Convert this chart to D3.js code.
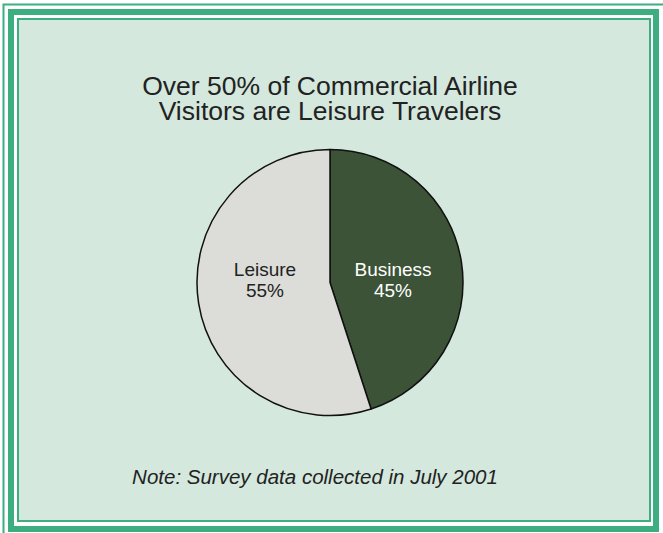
<!DOCTYPE html>
<html>
<head>
<meta charset="utf-8">
<script src="https://cdn.jsdelivr.net/npm/d3@7"></script>
<style>
  html, body { margin: 0; padding: 0; background: #ffffff; }
  svg { display: block; }
</style>
</head>
<body>
<script>
// Share of commercial airline visitors by trip purpose
const categories = ["Business", "Leisure"];
const shares = [45, 55];
const sliceLabels = ["45%", "55%"];
const titleLines = ["Over 50% of Commercial Airline", "Visitors are Leisure Travelers"];
const noteText = "Note: Survey data collected in July 2001";

const W = 663, H = 533;
const green = "#3dae80";
const panelFill = "#d4e8dd";
const font = "'Liberation Sans', Arial, sans-serif";
const sliceColors = d3.scaleOrdinal().domain(categories).range(["#3c5337", "#dcdcd8"]);
const labelColors = d3.scaleOrdinal().domain(categories).range(["#ffffff", "#222222"]);

const svg = d3.select("body").append("svg").attr("width", W).attr("height", H);

// framed panel: thin outer rule, heavy band, thin inner rule
svg.append("rect").attr("x", 3.5).attr("y", 4.5).attr("width", W + 10).attr("height", H + 10)
  .attr("fill", "none").attr("stroke", green).attr("stroke-width", 2);
svg.append("rect").attr("x", 11).attr("y", 12).attr("width", 645).attr("height", 517)
  .attr("fill", "#ffffff").attr("stroke", green).attr("stroke-width", 6);
svg.append("rect").attr("x", 18).attr("y", 19).attr("width", 632).attr("height", 502)
  .attr("fill", panelFill).attr("stroke", green).attr("stroke-width", 2);

// title, one text element per line
svg.selectAll("text.title").data(titleLines).join("text")
  .attr("class", "title")
  .attr("x", 330)
  .attr("y", (d, i) => 95 + i * 25)
  .attr("text-anchor", "middle")
  .attr("font-family", font)
  .attr("font-size", 26.5)
  .attr("fill", "#222222")
  .text(d => d);

// pie
const cx = 330, cy = 282.5, r = 133;
const pie = d3.pie().sort(null).value(d => d.value);
const arcs = pie(categories.map((c, i) => ({ cat: c, value: shares[i], label: sliceLabels[i] })));
const arc = d3.arc().innerRadius(0).outerRadius(r);

const g = svg.append("g").attr("transform", `translate(${cx},${cy})`);
g.selectAll("path.slice").data(arcs).join("path")
  .attr("class", "slice")
  .attr("d", arc)
  .attr("fill", d => sliceColors(d.data.cat))
  .attr("stroke", "#111111")
  .attr("stroke-width", 1.5)
  .attr("stroke-linejoin", "round");

// slice labels sit level with each other, left and right of the centre
const labelX = { Business: 63, Leisure: -65 };
const lab = g.selectAll("text.lab").data(arcs).join("text")
  .attr("class", "lab")
  .attr("text-anchor", "middle")
  .attr("font-family", font)
  .attr("font-size", 19)
  .attr("fill", d => labelColors(d.data.cat))
  .attr("transform", d => `translate(${labelX[d.data.cat]},${-7})`);
lab.append("tspan").attr("x", 0).attr("dy", 0).text(d => d.data.cat);
lab.append("tspan").attr("x", 0).attr("dy", 21).text(d => d.data.label);

// footnote
svg.append("text")
  .attr("x", 315).attr("y", 484)
  .attr("text-anchor", "middle")
  .attr("font-family", font)
  .attr("font-style", "italic")
  .attr("font-size", 20.5)
  .attr("fill", "#222222")
  .text(noteText);
</script>
</body>
</html>
